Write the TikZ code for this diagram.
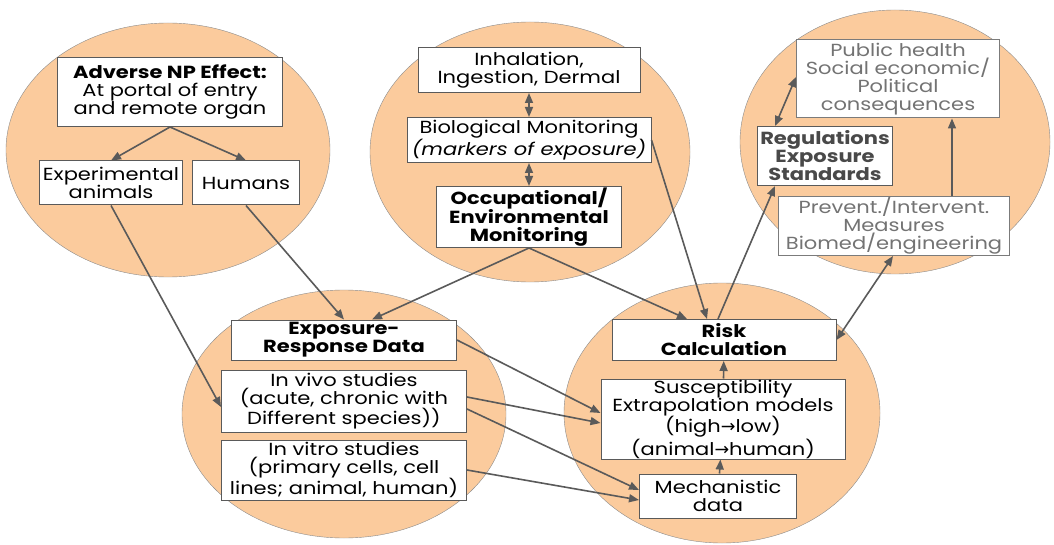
\documentclass[tikz,border=0pt]{standalone}
\usepackage{fontspec}
\setmainfont[FakeStretch=1.2]{Poppins}
\newfontfamily\arrowfont{DejaVu Sans}
\usepackage{tikz}
\usetikzlibrary{arrows.meta}
\definecolor{peach}{RGB}{251,203,157}
\definecolor{edge}{RGB}{90,90,90}
\newcommand{\toarrow}{{\arrowfont →}}

\begin{document}
\begin{tikzpicture}[x=1pt, y=-1pt,
    blob/.style={draw=edge!70, fill=peach},
    box/.style={draw=edge, line width=1pt, fill=white, align=center, inner sep=0pt,
                font=\fontsize{17.5}{18}\selectfont},
    boxb/.style={box, font=\fontsize{17.5}{18}\selectfont\bfseries},
    greybox/.style={box, draw=edge!80, text=edge!85},
    link/.style={draw=edge, line width=1.6pt, -{Triangle[length=10pt,width=8pt]}},
    both/.style={link, {Triangle[length=10pt,width=8pt]}-{Triangle[length=10pt,width=8pt]}}]
\useasboundingbox (0,0) rectangle (1054,545);
% the five fields
\draw[blob] (168,150) ellipse [x radius=162, y radius=127];
\draw[blob] (530,152) ellipse [x radius=160, y radius=130];
\draw[blob] (895,142) ellipse [x radius=155, y radius=132];
\draw[blob] (344,414) ellipse [x radius=162, y radius=124];
\draw[blob] (722,413) ellipse [x radius=158, y radius=130];

% hazard
\node[box, minimum width=225, minimum height=69] (adverse) at (170,92)
  {\textbf{Adverse NP Effect:}\\At portal of entry\\and remote organ};
\node[box, minimum width=143, minimum height=44] (animals) at (111,183) {Experimental\\animals};
\node[box, minimum width=107, minimum height=44] (humans) at (246,183) {Humans};

% exposure
\node[box, minimum width=222, minimum height=45] (routes) at (529,70) {Inhalation,\\Ingestion, Dermal};
\node[box, minimum width=244, minimum height=45] (biomon) at (529,140)
  {Biological Monitoring\\\textit{(markers of exposure)}};
\node[boxb, minimum width=185, minimum height=61] (occup) at (529,217)
  {Occupational/\\Environmental\\Monitoring};

% management
\node[greybox, minimum width=203, minimum height=78] (public) at (898,79)
  {Public health\\Social economic/\\Political\\consequences};
\node[boxb, text=edge!110, minimum width=135, minimum height=59] (regul) at (825,156)
  {Regulations\\Exposure\\Standards};
\node[greybox, minimum width=231, minimum height=59] (prevent) at (894,226)
  {Prevent./Intervent.\\Measures\\Biomed/engineering};

% dose response
\node[boxb, minimum width=225, minimum height=40] (expresp) at (344,340) {Exposure-\\Response Data};
\node[box, minimum width=245, minimum height=62] (vivo) at (344,401)
  {In vivo studies\\(acute, chronic with\\Different species))};
\node[box, minimum width=245, minimum height=60] (vitro) at (344,470)
  {In vitro studies\\(primary cells, cell\\lines; animal, human)};

% risk
\node[boxb, minimum width=224, minimum height=41] (risk) at (724,340) {Risk\\Calculation};
\node[box, minimum width=244, minimum height=80] (suscep) at (723,419)
  {Susceptibility\\Extrapolation models\\(high\toarrow low)\\(animal\toarrow human)};
\node[box, minimum width=157, minimum height=44] (mech) at (718,496) {Mechanistic\\data};

% connectors
\draw[link] (adverse.south) -- (animals.north);
\draw[link] (adverse.south) -- (humans.north);
\draw[link] (animals.south) -- ([yshift=-6pt]vivo.west);
\draw[link] (humans.south) -- (expresp.north);
\draw[link] (occup.south) -- ([xshift=28pt]expresp.north);
\draw[link] (occup.south) -- ([xshift=-37pt]risk.north);
\draw[link] (biomon.east) -- ([xshift=-17pt]risk.north);
\draw[link] ([xshift=-6pt]risk.north) -- ([xshift=-50pt]regul.south);
\draw[both] (routes) -- (biomon);
\draw[both] (biomon) -- (occup);
\draw[both] ([xshift=18pt]regul.north west) -- ([yshift=2pt]public.west);
\draw[link] ([xshift=58pt]prevent.north) coordinate (pa) -- (public.south -| pa);
\draw[both] (risk.east) -- ([xshift=-1pt]prevent.south);
\draw[link] (expresp.east) -- ([yshift=6pt]suscep.west);
\draw[link] ([yshift=4pt]vivo.east) -- ([yshift=-4pt]suscep.west);
\draw[link] ([yshift=-8pt]vivo.east) -- ([yshift=6pt]mech.west);
\draw[link] (vitro.east) -- ([yshift=-4pt]mech.west);
\draw[link] (mech) -- (suscep);
\draw[link] (suscep) -- (risk);
\end{tikzpicture}
\end{document}
